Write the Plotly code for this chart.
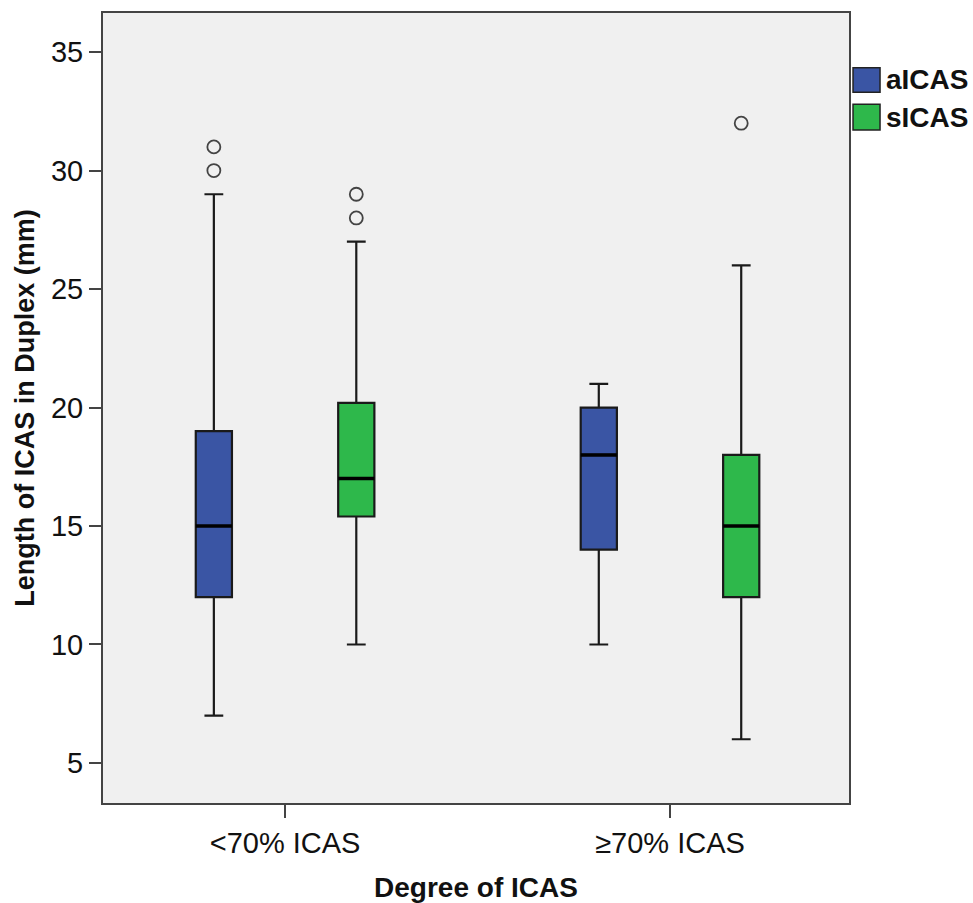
import plotly.graph_objects as go

categories = ["<70% ICAS", "≥70% ICAS"]
series_names = ["aICAS", "sICAS"]
series_colors = ["#3A55A4", "#2EB84B"]

# per series: values for each category
lower_fence = {"aICAS": [7, 10], "sICAS": [10, 6]}
q1 = {"aICAS": [12, 14], "sICAS": [15.4, 12]}
median = {"aICAS": [15, 18], "sICAS": [17, 15]}
q3 = {"aICAS": [19, 20], "sICAS": [20.2, 18]}
upper_fence = {"aICAS": [29, 21], "sICAS": [27, 26]}
outliers = {"aICAS": [[30, 31], []], "sICAS": [[28, 29], [32]]}

y_ticks = [5, 10, 15, 20, 25, 30, 35]

offsets = {"aICAS": -0.185, "sICAS": 0.185}
box_w = 0.094

fig = go.Figure()
shapes = []
annotations = []
legend_y = [(0.9308, 0.8997), (0.8844, 0.8519)]
for k, (name, color) in enumerate(zip(series_names, series_colors)):
    xs = [i + offsets[name] for i in range(len(categories))]
    fig.add_trace(go.Box(
        name=name,
        x=xs,
        q1=q1[name], median=median[name], q3=q3[name],
        lowerfence=lower_fence[name], upperfence=upper_fence[name],
        width=box_w,
        whiskerwidth=0.52,
        fillcolor=color,
        line=dict(color="#1a1a1a", width=2.2),
        boxpoints=False,
        showlegend=False,
        hoverinfo="skip",
    ))
    ox, oy = [], []
    for i, pts in enumerate(outliers[name]):
        for v in pts:
            ox.append(xs[i])
            oy.append(v)
    fig.add_trace(go.Scatter(
        x=ox, y=oy, mode="markers", showlegend=False,
        marker=dict(symbol="circle-open", size=13, color="#444444", line=dict(width=1.8)),
        hoverinfo="skip",
    ))
    for i, m in enumerate(median[name]):
        shapes.append(dict(type="line", xref="x", yref="y",
                           x0=xs[i] - box_w / 2, x1=xs[i] + box_w / 2, y0=m, y1=m,
                           line=dict(color="black", width=3.5)))
    # legend entry (swatch + label)
    y1, y0 = legend_y[k]
    shapes.append(dict(type="rect", xref="paper", yref="paper",
                       x0=1.0054, x1=1.0416, y0=y0, y1=y1,
                       fillcolor=color, line=dict(color="#222222", width=1.5)))
    annotations.append(dict(text=name, xref="paper", yref="paper",
                            x=1.0475, y=(y0 + y1) / 2, xanchor="left", yanchor="middle",
                            showarrow=False, font=dict(size=28, weight="bold", color="#111111")))

fig.update_layout(
    width=973, height=903,
    margin=dict(l=103, r=124, t=13, b=100),
    paper_bgcolor="white",
    plot_bgcolor="#F0F0F0",
    font=dict(family="Liberation Sans, Arial", size=29, color="#111111"),
    shapes=shapes,
    annotations=annotations,
    showlegend=False,
    xaxis=dict(
        range=[-0.473, 1.465],
        tickvals=list(range(len(categories))), ticktext=categories,
        ticks="outside", ticklen=13, tickwidth=1.5, tickcolor="#444444",
        showgrid=False, zeroline=False, automargin=False,
        showline=True, linecolor="#444444", linewidth=2, mirror=True,
        title=dict(text="Degree of ICAS", font=dict(size=28, weight="bold"), standoff=20),
        tickfont=dict(size=29),
    ),
    yaxis=dict(
        range=[3.31, 36.65],
        tickvals=y_ticks,
        ticks="outside", ticklen=12, tickwidth=1.5, tickcolor="#444444",
        showgrid=False, zeroline=False, automargin=False,
        showline=True, linecolor="#444444", linewidth=2, mirror=True,
        title=dict(text="Length of ICAS in Duplex (mm)", font=dict(size=27, weight="bold"), standoff=8),
        tickfont=dict(size=29),
    ),
)

fig.write_html("out.html")
